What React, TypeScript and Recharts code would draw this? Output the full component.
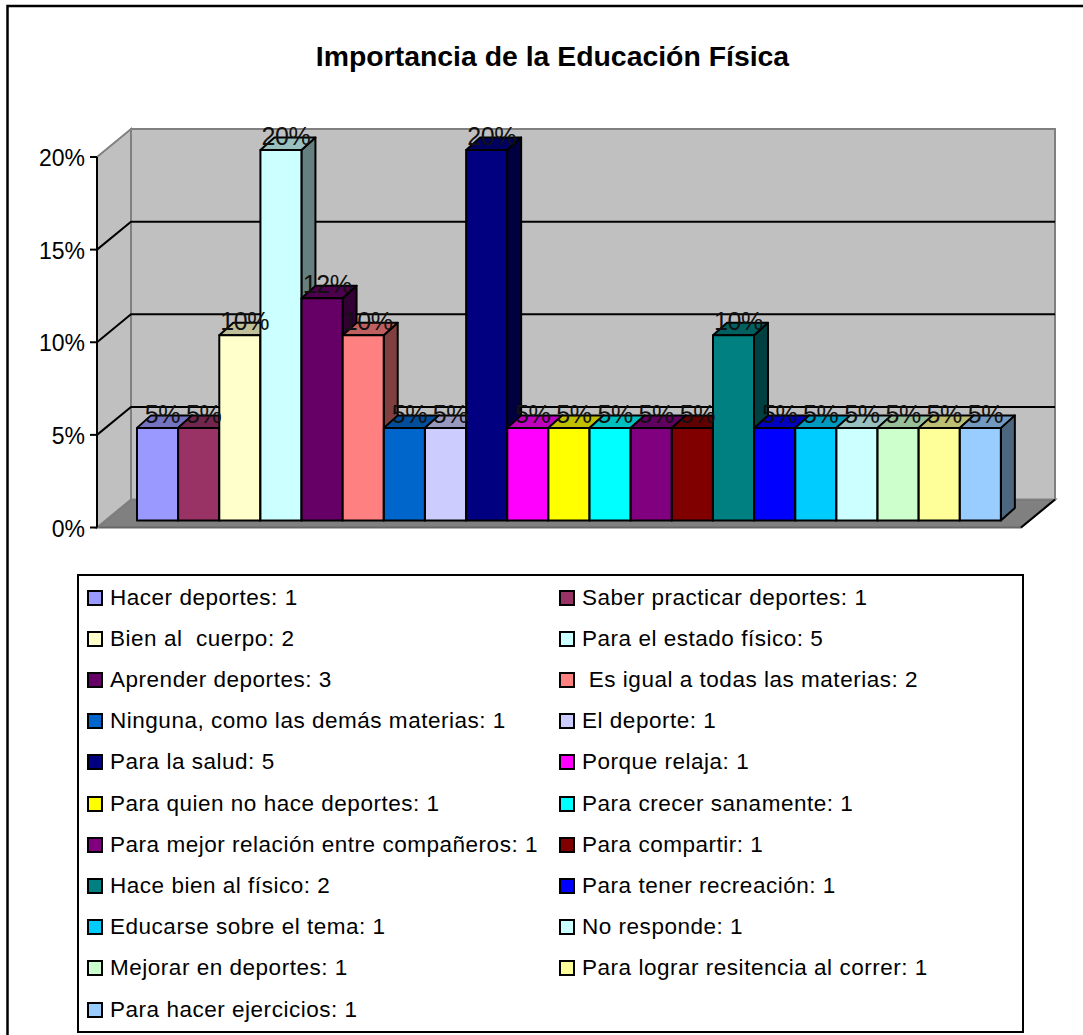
import { BarChart, Bar, XAxis, YAxis, CartesianGrid, LabelList, Legend } from "recharts";

const CATEGORIES = [
  "Hacer deportes: 1",
  "Saber practicar deportes: 1",
  "Bien al  cuerpo: 2",
  "Para el estado físico: 5",
  "Aprender deportes: 3",
  " Es igual a todas las materias: 2",
  "Ninguna, como las demás materias: 1",
  "El deporte: 1",
  "Para la salud: 5",
  "Porque relaja: 1",
  "Para quien no hace deportes: 1",
  "Para crecer sanamente: 1",
  "Para mejor relación entre compañeros: 1",
  "Para compartir: 1",
  "Hace bien al físico: 2",
  "Para tener recreación: 1",
  "Educarse sobre el tema: 1",
  "No responde: 1",
  "Mejorar en deportes: 1",
  "Para lograr resitencia al correr: 1",
  "Para hacer ejercicios: 1",
];
const PERCENTS = [5, 5, 10, 20, 12, 10, 5, 5, 20, 5, 5, 5, 5, 5, 10, 5, 5, 5, 5, 5, 5];
const COLORS = [
  "#9999ff", "#993366", "#ffffcc", "#ccffff", "#660066", "#ff8080", "#0066cc",
  "#ccccff", "#000080", "#ff00ff", "#ffff00", "#00ffff", "#800080", "#800000",
  "#008080", "#0000ff", "#00ccff", "#ccffff", "#ccffcc", "#ffff99", "#99ccff",
];
const Y_TICKS = [0, 5, 10, 15, 20];

const W = 1083;
const H = 1035;
const FONT = '"Liberation Sans", Arial, sans-serif';

// plot box = the front plane of the axes
const LEFT = 97;
const RIGHT = 1021;
const TOP = 157;
const BOTTOM = 527.5;
// depth of the wall behind the front plane
const DX = 34;
const DY = 28;
// bars stand a bit behind the front plane and have their own depth
const BAR_DX = 6;
const BAR_DY = 7;
const DEPTH_X = 14;
const DEPTH_Y = 12.5;

const chartData = CATEGORIES.map((name, i) => ({ name, value: PERCENTS[i], color: COLORS[i] }));

function shade(hex: string, k: number) {
  const n = parseInt(hex.slice(1), 16);
  const r = Math.round(((n >> 16) & 255) * k);
  const g = Math.round(((n >> 8) & 255) * k);
  const b = Math.round((n & 255) * k);
  return `rgb(${r},${g},${b})`;
}

function Bar3D(props: any) {
  const { x, y, width, height, payload } = props;
  const x0 = x + BAR_DX;
  const y0 = y - BAR_DY;
  const x1 = x0 + width;
  const y1 = y0 + height;
  const c = payload.color;
  return (
    <g stroke="#000" strokeWidth={2} strokeLinejoin="round">
      <polygon
        points={`${x1},${y0} ${x1 + DEPTH_X},${y0 - DEPTH_Y} ${x1 + DEPTH_X},${y1 - DEPTH_Y} ${x1},${y1}`}
        fill={shade(c, 0.5)}
      />
      <polygon
        points={`${x0},${y0} ${x0 + DEPTH_X},${y0 - DEPTH_Y} ${x1 + DEPTH_X},${y0 - DEPTH_Y} ${x1},${y0}`}
        fill={shade(c, 0.75)}
      />
      <rect x={x0} y={y0} width={width} height={height} fill={c} />
    </g>
  );
}

function BarLabel(props: any) {
  const { x, y, width, value } = props;
  return (
    <text
      x={x + width / 2 + BAR_DX + 5}
      y={y - 12}
      textAnchor="middle"
      fontSize={25}
      letterSpacing={-0.4}
      fontFamily={FONT}
      fill="#111"
    >
      {value}%
    </text>
  );
}

function GridLine3D(props: any) {
  const { x1, y1 } = props;
  if (y1 <= TOP + 1 || y1 >= BOTTOM - 1) return <g />;
  return (
    <polyline
      points={`${x1},${y1} ${x1 + DX},${y1 - DY} ${RIGHT + DX},${y1 - DY}`}
      fill="none"
      stroke="#000"
      strokeWidth={2}
    />
  );
}

function LegendBox() {
  return (
    <div
      style={{
        boxSizing: "border-box",
        width: 947,
        height: 459,
        border: "2px solid #000",
        background: "#fff",
        position: "relative",
        fontFamily: FONT,
        fontSize: 22.5,
        letterSpacing: 0.52,
        color: "#000",
      }}
    >
      {CATEGORIES.map((name, i) => (
        <div
          key={i}
          style={{
            position: "absolute",
            left: i % 2 === 0 ? 8 : 480,
            top: 1 + Math.floor(i / 2) * 41.2,
            height: 41,
            display: "flex",
            alignItems: "center",
            whiteSpace: "pre",
          }}
        >
          <span
            style={{
              display: "inline-block",
              boxSizing: "border-box",
              width: 16,
              height: 16,
              border: "2px solid #000",
              background: COLORS[i],
              marginRight: 7,
            }}
          />
          {name}
        </div>
      ))}
    </div>
  );
}

export default function App() {
  return (
    <div style={{ position: "absolute", left: 0, top: 0, width: W, height: H, background: "#fff", overflow: "hidden" }}>
      <svg width={W} height={H} style={{ position: "absolute", left: 0, top: 0 }}>
        <rect x={7.5} y={6} width={W + 20} height={H + 20} fill="#fff" stroke="#000" strokeWidth={2.5} />
        <polygon
          points={`${LEFT},${BOTTOM} ${LEFT + DX},${BOTTOM - DY} ${RIGHT + DX},${BOTTOM - DY} ${RIGHT},${BOTTOM}`}
          fill="#808080"
          stroke="#666"
          strokeWidth={2}
        />
        <polygon
          points={`${LEFT},${TOP} ${LEFT + DX},${TOP - DY} ${LEFT + DX},${BOTTOM - DY} ${LEFT},${BOTTOM}`}
          fill="#c0c0c0"
          stroke="#808080"
          strokeWidth={2}
        />
        <rect
          x={LEFT + DX}
          y={TOP - DY}
          width={RIGHT - LEFT}
          height={BOTTOM - TOP}
          fill="#c0c0c0"
          stroke="#808080"
          strokeWidth={2}
        />
        <line x1={RIGHT} y1={BOTTOM} x2={RIGHT + DX} y2={BOTTOM - DY} stroke="#000" strokeWidth={2} />
      </svg>
      <div
        style={{
          position: "absolute",
          left: 0,
          top: 40,
          width: 1105,
          textAlign: "center",
          fontFamily: FONT,
          fontWeight: "bold",
          fontSize: 28.4,
          color: "#000",
        }}
      >
        Importancia de la Educación Física
      </div>
      <div style={{ position: "absolute", left: 0, top: 0 }}>
        <BarChart
          width={W}
          height={H}
          data={chartData}
          barCategoryGap={0}
          margin={{ top: TOP, right: W - RIGHT, bottom: H - BOTTOM, left: 0 }}
        >
          <CartesianGrid vertical={false} horizontal={(p: any) => <GridLine3D {...p} />} />
          <XAxis
            dataKey="name"
            height={0}
            tick={false}
            tickLine={false}
            axisLine={{ stroke: "#000", strokeWidth: 2.5 }}
            padding={{ left: 34, right: 26 }}
            interval={0}
          />
          <YAxis
            width={LEFT}
            domain={[0, 20]}
            ticks={Y_TICKS}
            tickFormatter={(v: number) => `${v}%`}
            tick={{ fontSize: 23, fontFamily: FONT, fill: "#000", dy: 1 }}
            tickSize={7}
            tickMargin={5}
            tickLine={{ stroke: "#000", strokeWidth: 2 }}
            axisLine={{ stroke: "#000", strokeWidth: 2 }}
          />
          <Bar dataKey="value" isAnimationActive={false} shape={<Bar3D />}>
            <LabelList dataKey="value" content={<BarLabel />} />
          </Bar>
          <Legend
            layout="horizontal"
            verticalAlign="middle"
            align="center"
            content={() => <LegendBox />}
            wrapperStyle={{ left: 77, top: 574, width: 947, height: 459, margin: 0 }}
          />
        </BarChart>
      </div>
    </div>
  );
}
